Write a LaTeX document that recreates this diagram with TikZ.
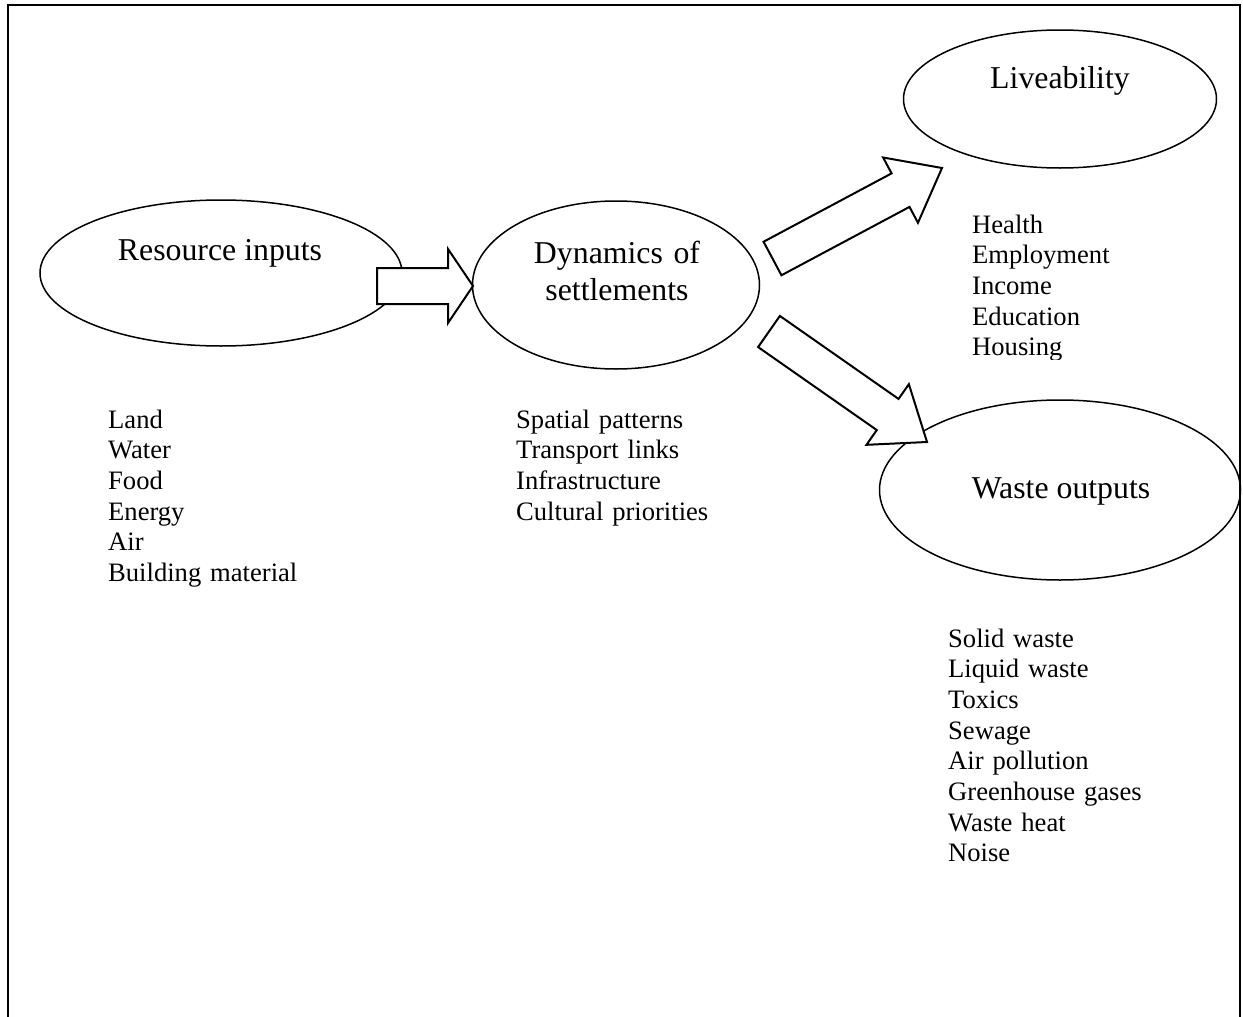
\documentclass[tikz,border=0pt]{standalone}
\usepackage{fontspec}
\setmainfont{Liberation Serif}
\usetikzlibrary{calc,shapes.geometric}

\newcommand\bubbletxt{\fontsize{31.8}{37}\selectfont}
\newcommand\listtxt{\fontsize{26.6}{30.7}\selectfont}

%% block arrow: tail, tip, shaft half width, head half width, head length
\newcommand\blockarrow[5]{%
  \coordinate (ba-h) at ($(#2)!#5!(#1)$);
  \draw[flowarrow] ($(#1)!#3!90:(#2)$) -- ($(ba-h)!#3!90:(#2)$) -- ($(ba-h)!#4!90:(#2)$)
    -- (#2) -- ($(ba-h)!#4!-90:(#2)$) -- ($(ba-h)!#3!-90:(#2)$) -- ($(#1)!#3!-90:(#2)$) -- cycle;}

\begin{document}
\begin{tikzpicture}[x=1pt,y=-1pt,
    bubble/.style={ellipse,draw=black,line width=1.5pt,inner sep=0pt},
    bubblelabel/.style={font=\bubbletxt,anchor=base,inner sep=0pt},
    itemlist/.style={font=\listtxt,text width=260pt,align=left,anchor=base west,inner sep=0pt},
    flowarrow/.style={draw=black,fill=white,line width=2pt}]
		\useasboundingbox (0,0) rectangle (1243,1017);
		
		% Frame (open at the bottom)
		\draw[line width=2.5pt] (8,1017) -- (8,5) -- (1240,5) -- (1240,1017);
		
		%% Ellipses
		\node[bubble,minimum width=362pt,minimum height=146pt] (res) at (221,273) {};
		\node[bubble,minimum width=287pt,minimum height=168pt] (dyn) at (616,285) {};
		\node[bubble,minimum width=313pt,minimum height=138pt] (liv) at (1060,99) {};
		\node[bubble,minimum width=361pt,minimum height=180pt] (waste) at (1060,490) {};
		
		%% Labels
		\node[bubblelabel] (res-t) at (220,260) {Resource inputs};
		\node[bubblelabel,align=center,text width=260pt] (dyn-t) at (617,263) {Dynamics of\\settlements};
		\node[bubblelabel] (liv-t) at (1060,88) {Liveability};
		\node[bubblelabel] (waste-t) at (1061,498) {Waste outputs};
		
		%% Arrows
		\coordinate (a1-tail) at (377,286);
		\coordinate (a1-tip) at (473,286);
		\coordinate (a2-tail) at (772.5,258.5);
		\coordinate (a2-tip) at (942,168);
		\coordinate (a3-tail) at (769,331.5);
		\coordinate (a3-tip) at (927,442);
		\blockarrow{a1-tail}{a1-tip}{18pt}{37pt}{25pt}
		\blockarrow{a2-tail}{a2-tip}{19pt}{37pt}{47pt}
		\blockarrow{a3-tail}{a3-tip}{19pt}{37pt}{48pt}
		
		%% Lists
		\node[itemlist] (res-l) at (108,428) {Land\\Water\\Food\\Energy\\Air\\Building material};
		\node[itemlist] (dyn-l) at (516,428) {Spatial patterns\\Transport links\\Infrastructure\\Cultural priorities};
		\begin{scope}
			\clip (940,190) rectangle (1200,359);
			\node[itemlist] (liv-l) at (972,233) {Health\\Employment\\Income\\Education\\Housing};
		\end{scope}
		\node[itemlist] (waste-l) at (948,647) {Solid waste\\Liquid waste\\Toxics\\Sewage\\Air pollution\\Greenhouse gases\\Waste heat\\Noise};
	\end{tikzpicture}
\end{document}
